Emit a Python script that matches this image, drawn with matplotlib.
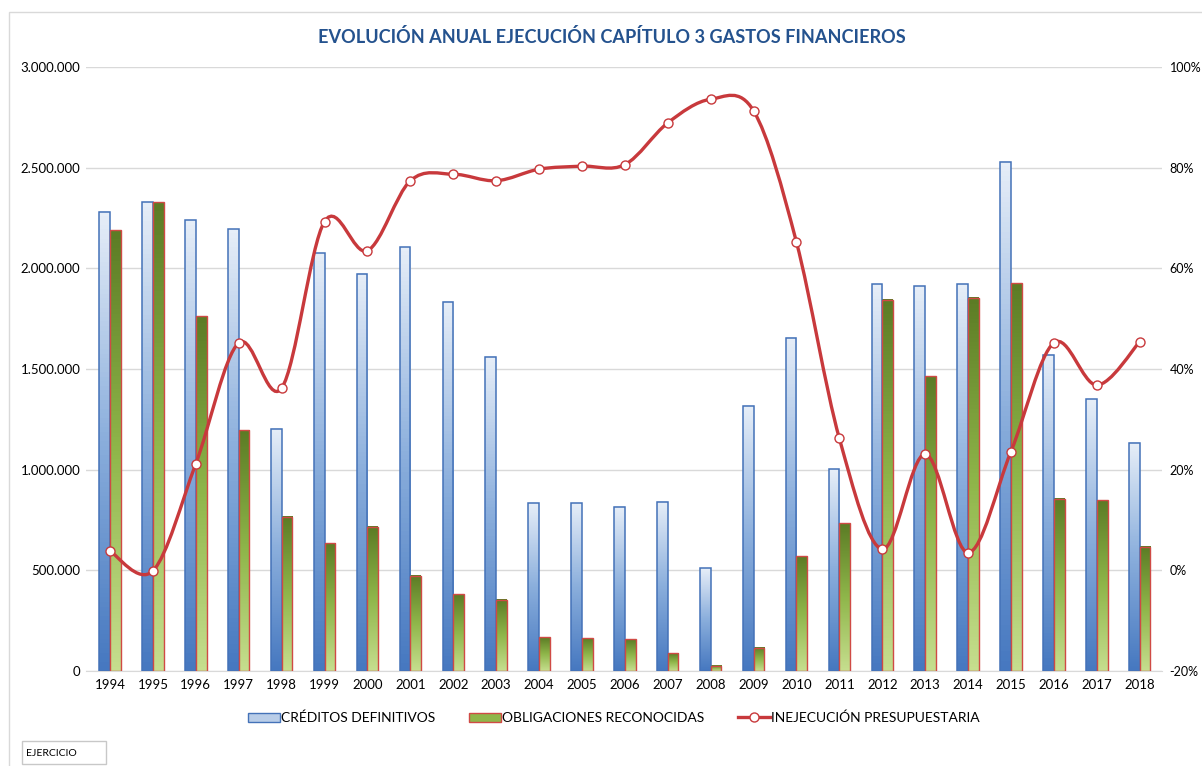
import numpy as np
import matplotlib.pyplot as plt
from matplotlib.path import Path
from matplotlib.patches import PathPatch, Patch, Rectangle
from matplotlib.lines import Line2D
from matplotlib.colors import LinearSegmentedColormap
from matplotlib.ticker import FuncFormatter

plt.rcParams['font.family'] = ['Lato', 'DejaVu Sans']

# data
years = ['1994', '1995', '1996', '1997', '1998', '1999', '2000', '2001', '2002',
         '2003', '2004', '2005', '2006', '2007', '2008', '2009', '2010', '2011',
         '2012', '2013', '2014', '2015', '2016', '2017', '2018']
creditos = [2280000, 2327000, 2239000, 2193000, 1203000, 2076000, 1973000, 2105000,
            1833000, 1560000, 834000, 834000, 816000, 841000, 510000, 1318000,
            1654000, 1002000, 1922000, 1912000, 1922000, 2530000, 1570000, 1350000,
            1134000]
obligaciones = [2189000, 2327000, 1763000, 1197000, 766000, 634000, 717000, 473000,
                382000, 353000, 167000, 162000, 157000, 88000, 27000, 116000,
                571000, 733000, 1843000, 1465000, 1853000, 1926000, 856000, 849000,
                617000]
inejecucion = [3.8, -0.1, 21.2, 45.2, 36.2, 69.3, 63.5, 77.4, 78.7, 77.4, 79.7, 80.3,
               80.6, 88.9, 93.6, 91.3, 65.2, 26.2, 4.2, 23.1, 3.5, 23.6, 45.2, 36.8,
               45.4]

title = 'EVOLUCIÓN ANUAL EJECUCIÓN CAPÍTULO 3 GASTOS FINANCIEROS'
labels = ['CRÉDITOS DEFINITIVOS', 'OBLIGACIONES RECONOCIDAS', 'INEJECUCIÓN PRESUPUESTARIA']

blue_cmap = LinearSegmentedColormap.from_list('b', ['#4678c0', '#8aaedc', '#e6eef8'])
green_cmap = LinearSegmentedColormap.from_list('g', ['#c6de8e', '#8fb64a', '#5c7c25'])
line_red = '#c8393c'

fig = plt.figure(figsize=(12.02, 7.66), dpi=100)
fig.patches.append(Rectangle((9 / 1202, -0.1), 1.2, 1 - 12 / 766 + 0.1,
                             transform=fig.transFigure, fill=False,
                             edgecolor='#d9d9d9', lw=1))

ax = fig.add_axes([86 / 1202, 1 - 671 / 766, (1162 - 86) / 1202, (671 - 67) / 766])
x = np.arange(len(years))
w = 0.25
grad = np.linspace(0, 1, 100).reshape(-1, 1)

# gradient bars: an image stretched over each bar's rectangle
for xi, c, o in zip(x, creditos, obligaciones):
    ax.imshow(grad, cmap=blue_cmap, extent=[xi - w, xi, 0, c], origin='lower',
              aspect='auto', zorder=2)
    ax.add_patch(Rectangle((xi - w, 0), w, c, fill=False, edgecolor='#4472b8',
                           lw=1.1, zorder=3))
    ax.imshow(grad, cmap=green_cmap, extent=[xi, xi + w, 0, o], origin='lower',
              aspect='auto', zorder=2)
    ax.add_patch(Rectangle((xi, 0), w, o, fill=False, edgecolor='#d04a45',
                           lw=1.0, zorder=3))

ax.set_xlim(-0.56, len(years) - 1 + 0.52)
ax.set_ylim(0, 3000000)
ax.set_yticks(np.arange(0, 3000001, 500000))
ax.yaxis.set_major_formatter(FuncFormatter(lambda v, p: f'{int(v):,}'.replace(',', '.')))
ax.set_xticks(x)
ax.set_xticklabels(years)
ax.grid(axis='y', color='#d9d9d9', lw=1, zorder=0)
ax.set_axisbelow(True)
for s in ['top', 'left', 'right']:
    ax.spines[s].set_visible(False)
ax.spines['bottom'].set_color('#d9d9d9')
ax.tick_params(axis='both', length=0, labelsize=9.5, colors='#000000')
ax.tick_params(axis='y', pad=4)
ax.tick_params(axis='x', pad=6)

# smoothed line on secondary axis (Bezier through the points)
ax2 = ax.twinx()
ax2.set_ylim(-20, 100)
ax2.set_yticks(np.arange(-20, 101, 20))
ax2.yaxis.set_major_formatter(FuncFormatter(lambda v, p: f'{int(v)}%'))
ax2.tick_params(axis='y', length=0, labelsize=9, pad=5.5)
for s in ax2.spines.values():
    s.set_visible(False)

pts = np.column_stack([x, inejecucion]).astype(float)
verts = [pts[0]]
codes = [Path.MOVETO]
n = len(pts)
for i in range(n - 1):
    p0 = pts[max(i - 1, 0)]
    p1 = pts[i]
    p2 = pts[i + 1]
    p3 = pts[min(i + 2, n - 1)]
    verts += [p1 + (p2 - p0) / 6, p2 - (p3 - p1) / 6, p2]
    codes += [Path.CURVE4] * 3
ax2.add_patch(PathPatch(Path(verts, codes), facecolor='none', edgecolor=line_red,
                        lw=2.4, zorder=4))
ax2.plot(x, inejecucion, ls='none', marker='o', ms=6.5, mfc='white', mec=line_red,
         mew=1.0, zorder=5)

fig.text(612 / 1202, 1 - 37 / 766, title, ha='center', va='center', fontsize=13.1,
         fontweight='bold', color='#24528e')

handles = [Patch(facecolor='#b9cde8', edgecolor='#4472b8'),
           Patch(facecolor='#8fb64a', edgecolor='#d04a45'),
           Line2D([], [], color=line_red, lw=2.4, marker='o', ms=6.5, mfc='white',
                  mec=line_red)]
fig.legend(handles, labels, loc='center', bbox_to_anchor=(614 / 1202, 1 - 718 / 766),
           ncol=3, frameon=False, fontsize=10, handlelength=2.3, handleheight=0.7,
           handletextpad=0.1, columnspacing=2.4)

fig.patches.append(Rectangle((22 / 1202, 1 - 764 / 766), 84 / 1202, 23 / 766,
                             transform=fig.transFigure, fill=False,
                             edgecolor='#c8c8c8', lw=1))
fig.text(26 / 1202, 1 - 753 / 766, 'EJERCICIO', ha='left', va='center', fontsize=7.5)

fig.savefig('out.png', dpi=100)
